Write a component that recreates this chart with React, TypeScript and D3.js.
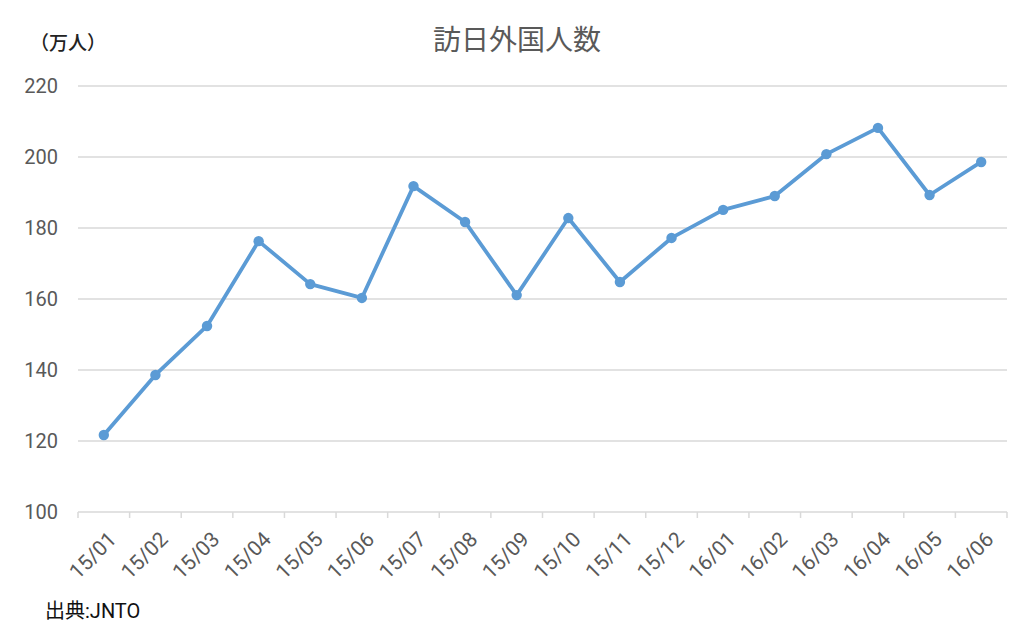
import * as d3 from "d3";

const months = [
  "15/01", "15/02", "15/03", "15/04", "15/05", "15/06", "15/07", "15/08", "15/09",
  "15/10", "15/11", "15/12", "16/01", "16/02", "16/03", "16/04", "16/05", "16/06",
];
const visitors = [
  121.7, 138.6, 152.4, 176.3, 164.2, 160.3, 191.8, 181.7, 161.1,
  182.8, 164.8, 177.2, 185.1, 189.0, 200.8, 208.2, 189.3, 198.6,
];
const yTicks = [100, 120, 140, 160, 180, 200, 220];

const WIDTH = 1034;
const HEIGHT = 632;
const MARGIN = { top: 86, right: 27, bottom: 120, left: 78 };
const FONT = "Roboto, 'Noto Sans CJK JP', sans-serif";

export default function App() {
  const boundsWidth = WIDTH - MARGIN.left - MARGIN.right;
  const boundsHeight = HEIGHT - MARGIN.top - MARGIN.bottom;

  const xScale = d3.scaleBand().domain(months).range([0, boundsWidth]);
  const yScale = d3.scaleLinear().domain([100, 220]).range([boundsHeight, 0]);

  const cx = (m: string) => (xScale(m) ?? 0) + xScale.bandwidth() / 2;

  const line = d3
    .line<number>()
    .x((_, i) => cx(months[i]))
    .y((d) => yScale(d));

  // tick marks sit on band boundaries
  const boundaries = [...months.map((m) => xScale(m) ?? 0), boundsWidth];

  return (
    <svg
      width={WIDTH}
      height={HEIGHT}
      style={{ position: "absolute", left: 0, top: 0, background: "white" }}
      fontFamily={FONT}
    >
      <text x={517} y={50} textAnchor="middle" fontSize={28} fill="#595959">
        訪日外国人数
      </text>
      <text x={30} y={50} fontSize={19} fontWeight={500} fill="#222">
        （万人）
      </text>
      <text x={45} y={618} fontSize={20} fill="#111">
        出典:JNTO
      </text>

      <g transform={`translate(${MARGIN.left},${MARGIN.top})`}>
        {yTicks.map((t) => (
          <g key={t}>
            <line
              x1={0}
              x2={boundsWidth}
              y1={yScale(t)}
              y2={yScale(t)}
              stroke="#d9d9d9"
              strokeWidth={1.5}
            />
            <text
              x={-20}
              y={yScale(t)}
              textAnchor="end"
              dominantBaseline="central"
              fontSize={20}
              fill="#595959"
            >
              {t}
            </text>
          </g>
        ))}

        {boundaries.map((b, i) => (
          <line
            key={i}
            x1={b}
            x2={b}
            y1={boundsHeight}
            y2={boundsHeight + 6}
            stroke="#d9d9d9"
            strokeWidth={1.5}
          />
        ))}

        {months.map((m) => (
          <text
            key={m}
            transform={`translate(${cx(m) + 3},${boundsHeight + 18}) rotate(-45)`}
            textAnchor="end"
            dominantBaseline="hanging"
            fontSize={21}
            fill="#595959"
          >
            {m}
          </text>
        ))}

        <path
          d={line(visitors) ?? ""}
          fill="none"
          stroke="#5B9BD5"
          strokeWidth={3.8}
          strokeLinejoin="round"
        />
        {visitors.map((v, i) => (
          <circle key={i} cx={cx(months[i])} cy={yScale(v)} r={5.2} fill="#5B9BD5" />
        ))}
      </g>
    </svg>
  );
}
